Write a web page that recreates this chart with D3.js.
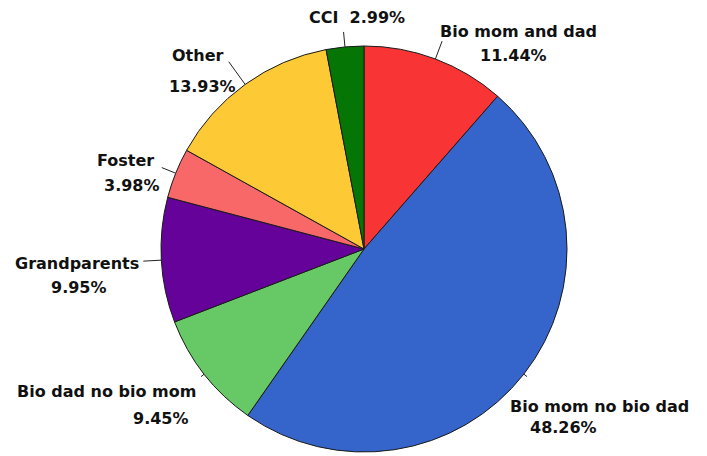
<!DOCTYPE html>
<html>
<head>
<meta charset="utf-8">
<script src="https://cdn.jsdelivr.net/npm/d3@7"></script>
<style>
  html, body { margin: 0; padding: 0; background: #fff; }
  svg { display: block; }
  text { font-family: "DejaVu Sans", Verdana, sans-serif; font-weight: bold; font-size: 16px; fill: #111; }
</style>
</head>
<body>
<svg id="chart" width="707" height="456"></svg>
<script>
// Living arrangement categories, clockwise from 12 o'clock
const categories = ["Bio mom and dad", "Bio mom no bio dad", "Bio dad no bio mom",
                    "Grandparents", "Foster", "Other", "CCI"];
const percents = [11.44, 48.26, 9.45, 9.95, 3.98, 13.93, 2.99];
const colors = ["#f83434", "#3565cb", "#66c966", "#65029a", "#f86868", "#fdca35", "#057505"];

// Label placement: leader length beyond the rim, and positions of the name / value lines
const labelLayout = [
  { lead: 19, name: [440, 37],  value: [480, 61] },
  { lead: 4,  name: [510, 412], value: [530, 433] },
  { lead: 4,  name: [17, 397],  value: [133, 424] },
  { lead: 18, name: [15, 269],  value: [51, 293] },
  { lead: 15, name: [97, 166],  value: [104, 191] },
  { lead: 28, name: [172, 61],  value: [169, 92] },
  { lead: 15, name: [309, 23],  value: null }
];

const svg = d3.select("#chart");
const cx = 364, cy = 249, radius = 203;

const data = categories.map((c, i) => ({ name: c, value: percents[i], color: colors[i], layout: labelLayout[i] }));

const pie = d3.pie().value(d => d.value).sort(null).startAngle(0).endAngle(2 * Math.PI);
const arcs = pie(data);
const arc = d3.arc().innerRadius(0).outerRadius(radius);

const g = svg.append("g").attr("transform", `translate(${cx},${cy})`);

g.selectAll("path.slice")
  .data(arcs)
  .join("path")
  .attr("class", "slice")
  .attr("d", arc)
  .attr("fill", d => d.data.color)
  .attr("stroke", "#1a1a1a")
  .attr("stroke-width", 1);

// Leader lines from the rim at each slice's mid-angle
const polar = (a, r) => [Math.sin(a) * r, -Math.cos(a) * r];
g.selectAll("line.leader")
  .data(arcs)
  .join("line")
  .attr("class", "leader")
  .each(function (d) {
    const mid = (d.startAngle + d.endAngle) / 2;
    const p0 = polar(mid, radius);
    const p1 = polar(mid, radius + d.data.layout.lead);
    d3.select(this)
      .attr("x1", p0[0]).attr("y1", p0[1])
      .attr("x2", p1[0]).attr("y2", p1[1]);
  })
  .attr("stroke", "#222")
  .attr("stroke-width", 1);

const fmt = d3.format(".2f");

const labels = svg.selectAll("g.label").data(arcs).join("g").attr("class", "label");
labels.each(function (d) {
  const sel = d3.select(this);
  const L = d.data.layout;
  if (L.value) {
    sel.append("text").attr("x", L.name[0]).attr("y", L.name[1]).text(d.data.name);
    sel.append("text").attr("x", L.value[0]).attr("y", L.value[1]).text(fmt(d.data.value) + "%");
  } else {
    sel.append("text").attr("x", L.name[0]).attr("y", L.name[1])
      .attr("xml:space", "preserve")
      .text(d.data.name + "  " + fmt(d.data.value) + "%");
  }
});
</script>
</body>
</html>
